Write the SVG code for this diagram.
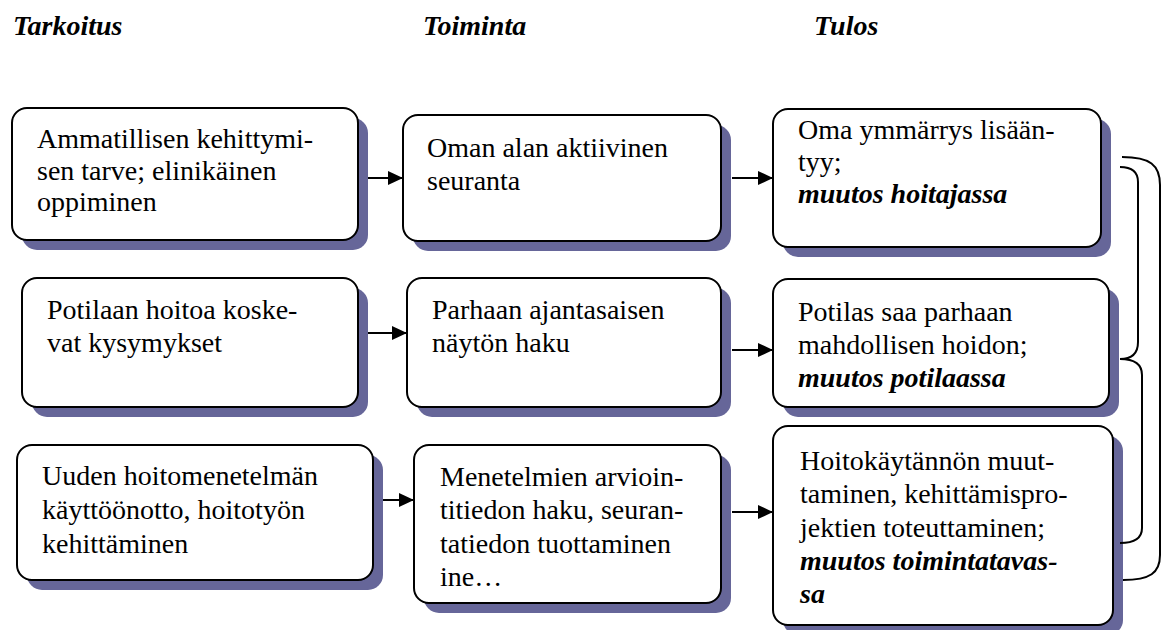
<svg xmlns="http://www.w3.org/2000/svg" width="1168" height="630" viewBox="0 0 1168 630">
<defs>
<marker id="ah" markerWidth="15" markerHeight="14" refX="15" refY="7" orient="auto" markerUnits="userSpaceOnUse">
<path d="M0,0 L15,7 L0,14 Z" fill="#000"/>
</marker>
</defs>
<rect width="1168" height="630" fill="#fff"/>
<text x="13" y="35" font-family="Liberation Serif" font-size="28" font-weight="bold" font-style="italic">Tarkoitus</text>
<text x="423" y="35" font-family="Liberation Serif" font-size="28" font-weight="bold" font-style="italic">Toiminta</text>
<text x="814" y="35" font-family="Liberation Serif" font-size="28" font-weight="bold" font-style="italic">Tulos</text>
<g id="n1">
<rect fill="#666699" x="22" y="118" width="346" height="132" rx="15"/>
<rect fill="#fff" stroke="#000" stroke-width="2" x="12" y="108" width="346" height="132" rx="15"/>
<text x="37" y="148" font-family="Liberation Serif" font-size="28">Ammatillisen kehittymi-</text>
<text x="37" y="180" font-family="Liberation Serif" font-size="28">sen tarve; elinikäinen</text>
<text x="37" y="211" font-family="Liberation Serif" font-size="28">oppiminen</text>
</g>
<g id="n2">
<rect fill="#666699" x="413" y="125" width="318" height="126" rx="15"/>
<rect fill="#fff" stroke="#000" stroke-width="2" x="403" y="115" width="318" height="126" rx="15"/>
<text x="427" y="157" font-family="Liberation Serif" font-size="28">Oman alan aktiivinen</text>
<text x="427" y="190" font-family="Liberation Serif" font-size="28">seuranta</text>
</g>
<g id="n3">
<rect fill="#666699" x="783" y="119" width="328" height="138" rx="15"/>
<rect fill="#fff" stroke="#000" stroke-width="2" x="773" y="109" width="328" height="138" rx="15"/>
<text x="798" y="139" font-family="Liberation Serif" font-size="28">Oma ymmärrys lisään-</text>
<text x="798" y="171" font-family="Liberation Serif" font-size="28">tyy;</text>
<text x="798" y="203" font-family="Liberation Serif" font-size="28" font-weight="bold" font-style="italic">muutos hoitajassa</text>
</g>
<g id="n4">
<rect fill="#666699" x="32" y="288" width="336" height="129" rx="15"/>
<rect fill="#fff" stroke="#000" stroke-width="2" x="22" y="278" width="336" height="129" rx="15"/>
<text x="47" y="319" font-family="Liberation Serif" font-size="28">Potilaan hoitoa koske-</text>
<text x="47" y="352" font-family="Liberation Serif" font-size="28">vat kysymykset</text>
</g>
<g id="n5">
<rect fill="#666699" x="417" y="288" width="314" height="129" rx="15"/>
<rect fill="#fff" stroke="#000" stroke-width="2" x="407" y="278" width="314" height="129" rx="15"/>
<text x="432" y="319" font-family="Liberation Serif" font-size="28">Parhaan ajantasaisen</text>
<text x="432" y="352" font-family="Liberation Serif" font-size="28">näytön haku</text>
</g>
<g id="n6">
<rect fill="#666699" x="783" y="289" width="336" height="128" rx="15"/>
<rect fill="#fff" stroke="#000" stroke-width="2" x="773" y="279" width="336" height="128" rx="15"/>
<text x="798" y="321" font-family="Liberation Serif" font-size="28">Potilas saa parhaan</text>
<text x="798" y="354" font-family="Liberation Serif" font-size="28">mahdollisen hoidon;</text>
<text x="798" y="387" font-family="Liberation Serif" font-size="28" font-weight="bold" font-style="italic">muutos potilaassa</text>
</g>
<g id="n7">
<rect fill="#666699" x="27" y="455" width="356" height="135" rx="15"/>
<rect fill="#fff" stroke="#000" stroke-width="2" x="17" y="445" width="356" height="135" rx="15"/>
<text x="42" y="485" font-family="Liberation Serif" font-size="28">Uuden hoitomenetelmän</text>
<text x="42" y="519" font-family="Liberation Serif" font-size="28">käyttöönotto, hoitotyön</text>
<text x="42" y="553" font-family="Liberation Serif" font-size="28">kehittäminen</text>
</g>
<g id="n8">
<rect fill="#666699" x="424" y="455" width="307" height="158" rx="15"/>
<rect fill="#fff" stroke="#000" stroke-width="2" x="414" y="445" width="307" height="158" rx="15"/>
<text x="440" y="486" font-family="Liberation Serif" font-size="28">Menetelmien arvioin-</text>
<text x="440" y="519" font-family="Liberation Serif" font-size="28">titiedon haku, seuran-</text>
<text x="440" y="553" font-family="Liberation Serif" font-size="28">tatiedon tuottaminen</text>
<text x="440" y="586" font-family="Liberation Serif" font-size="28">ine…</text>
</g>
<g id="n9">
<rect fill="#666699" x="783" y="436" width="340" height="199" rx="15"/>
<rect fill="#fff" stroke="#000" stroke-width="2" x="773" y="426" width="340" height="199" rx="15"/>
<text x="800" y="470" font-family="Liberation Serif" font-size="28">Hoitokäytännön muut-</text>
<text x="800" y="503" font-family="Liberation Serif" font-size="28">taminen, kehittämispro-</text>
<text x="800" y="537" font-family="Liberation Serif" font-size="28">jektien toteuttaminen;</text>
<text x="800" y="570" font-family="Liberation Serif" font-size="28" font-weight="bold" font-style="italic">muutos toimintatavas-</text>
<text x="800" y="603" font-family="Liberation Serif" font-size="28" font-weight="bold" font-style="italic">sa</text>
</g>
<g id="connectors" fill="none" stroke="#000" stroke-width="2">
<line x1="368" y1="178" x2="403" y2="178" marker-end="url(#ah)"/>
<line x1="732" y1="178" x2="773" y2="178" marker-end="url(#ah)"/>
<line x1="368" y1="333" x2="407" y2="333" marker-end="url(#ah)"/>
<line x1="732" y1="350" x2="773" y2="350" marker-end="url(#ah)"/>
<line x1="383" y1="500" x2="414" y2="500" marker-end="url(#ah)"/>
<line x1="732" y1="512" x2="773" y2="512" marker-end="url(#ah)"/>
<path d="M1122,157 C1150,157 1160,165 1160,185 L1160,555 C1160,573 1150,580 1123,580"/>
<path d="M1120,167 C1132,167 1138,172 1138,182 L1138,342 C1138,353 1132,359 1120,359"/>
<path d="M1120,359 C1135,359 1142,364 1142,375 L1142,528 C1142,538 1135,543 1120,543"/>
</g>
</svg>
